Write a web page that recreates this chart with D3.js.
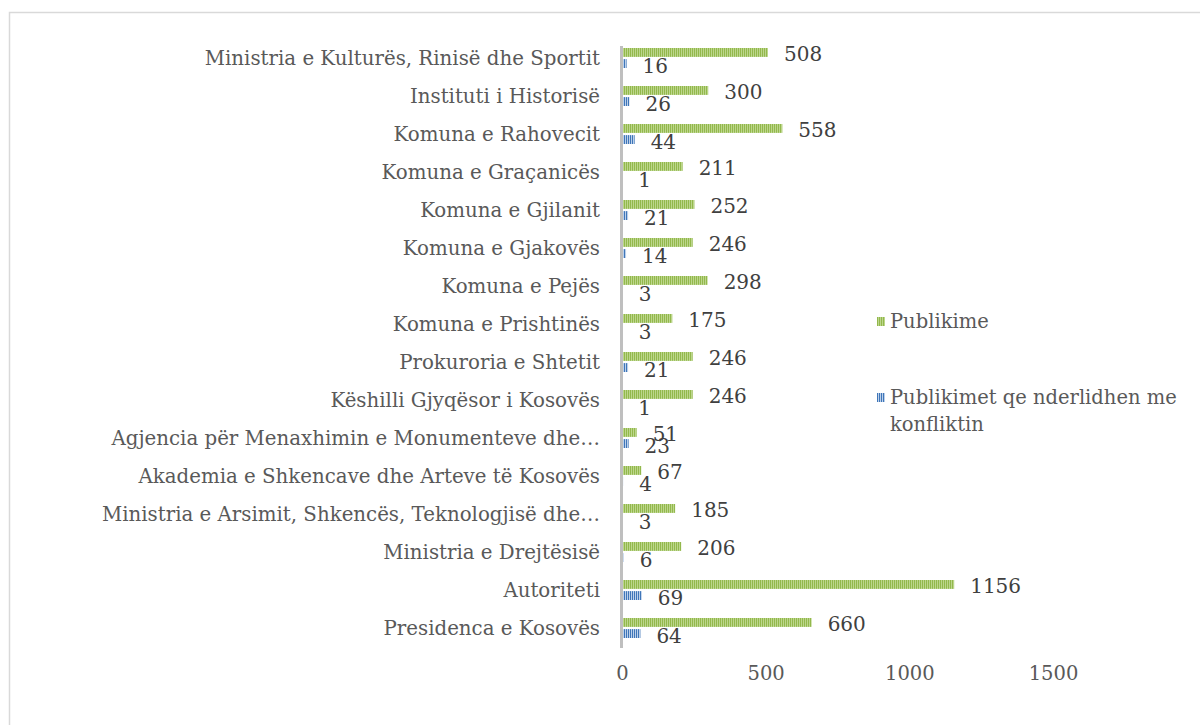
<!DOCTYPE html>
<html>
<head>
<meta charset="utf-8">
<script src="https://cdn.jsdelivr.net/npm/d3@7"></script>
<style>
  body { margin: 0; background: #fff; }
  svg text { font-family: "DejaVu Serif", "Liberation Serif", serif; }
</style>
</head>
<body>
<script>
// categories, top to bottom as in the chart
let categories = [
    "Ministria e Kulturës, Rinisë dhe Sportit",
    "Instituti i Historisë",
    "Komuna e Rahovecit",
    "Komuna e Graçanicës",
    "Komuna e Gjilanit",
    "Komuna e Gjakovës",
    "Komuna e Pejës",
    "Komuna e Prishtinës",
    "Prokuroria e Shtetit",
    "Këshilli Gjyqësor i Kosovës",
    "Agjencia për Menaxhimin e Monumenteve dhe…",
    "Akademia e Shkencave dhe Arteve të Kosovës",
    "Ministria e Arsimit, Shkencës, Teknologjisë dhe…",
    "Ministria e Drejtësisë",
    "Autoriteti",
    "Presidenca e Kosovës"
];
let publikime = [508, 300, 558, 211, 252, 246, 298, 175, 246, 246, 51, 67, 185, 206, 1156, 660];
let konflikt = [16, 26, 44, 1, 21, 14, 3, 3, 21, 1, 23, 4, 3, 6, 69, 64];
let seriesNames = ["Publikime", "Publikimet qe nderlidhen me konfliktin"];
let xTicks = [0, 500, 1000, 1500];

let width = 1200, height = 725;

let svg = d3.select("body").append("svg")
    .attr("width", width).attr("height", height);

// striped fills like the excel pattern bars
let defs = svg.append("defs");
let pg = defs.append("pattern").attr("id", "pGreen")
    .attr("patternUnits", "userSpaceOnUse").attr("width", 2).attr("height", 4);
pg.append("rect").attr("width", 2).attr("height", 4).attr("fill", "#bcd68c");
pg.append("rect").attr("width", 1).attr("height", 4).attr("fill", "#93b84c");
let pb = defs.append("pattern").attr("id", "pBlue")
    .attr("patternUnits", "userSpaceOnUse").attr("width", 2).attr("height", 4);
pb.append("rect").attr("width", 2).attr("height", 4).attr("fill", "#bcd0ea");
pb.append("rect").attr("width", 1).attr("height", 4).attr("fill", "#3f76b8");
let fills = ["url(#pGreen)", "url(#pBlue)"];

// outer frame (only top and left edges are inside the picture)
svg.append("rect")
    .attr("x", 9.5).attr("y", 12.5)
    .attr("width", 1250).attr("height", 800)
    .attr("fill", "none").attr("stroke", "#d9d9d9").attr("stroke-width", 1.5);

let x = d3.scaleLinear().domain([0, 1500]).range([622, 1053]);
let y = d3.scaleBand().domain(categories).range([39, 647]);
let ySub = d3.scaleBand().domain(d3.range(2)).range([9, 29]).paddingInner(0.2);

let rows = categories.map((c, i) => ({ cat: c, vals: [publikime[i], konflikt[i]] }));

// category labels
svg.append("g").selectAll("text").data(categories).join("text")
    .attr("x", 600)
    .attr("y", (d) => y(d) + y.bandwidth() / 2)
    .attr("dy", "0.35em")
    .attr("text-anchor", "end")
    .attr("font-size", 19.8)
    .attr("fill", "#595959")
    .text((d) => d);

// bars
let grp = svg.append("g").selectAll("g").data(rows).join("g")
    .attr("transform", (d) => `translate(0,${y(d.cat)})`);

grp.selectAll("rect").data((d) => d.vals).join("rect")
    .attr("x", x(0))
    .attr("y", (d, i) => ySub(i))
    .attr("width", (d) => x(d) - x(0))
    .attr("height", ySub.bandwidth())
    .attr("fill", (d, i) => fills[i]);

// value labels
grp.selectAll("text").data((d) => d.vals).join("text")
    .attr("x", (d) => x(d) + 16)
    .attr("y", (d, i) => ySub(i) + ySub.bandwidth() / 2 + 2)
    .attr("dy", "0.35em")
    .attr("font-size", 20)
    .attr("fill", "#404040")
    .text((d) => d);

// vertical axis line
svg.append("line")
    .attr("x1", 621.5).attr("x2", 621.5)
    .attr("y1", 46).attr("y2", 648)
    .attr("stroke", "#bfbfbf").attr("stroke-width", 3);

// x axis labels
let xAxis = svg.append("g")
    .attr("transform", "translate(0,666)")
    .call(d3.axisBottom(x).tickValues(xTicks).tickFormat(d3.format("d")).tickSize(0).tickPadding(0));
xAxis.select(".domain").remove();
xAxis.selectAll("text")
    .attr("font-size", 19.5)
    .attr("fill", "#595959")
    .attr("dy", "0.7em")
    .attr("font-family", null);

// legend
let legY = [321, 397];
let leg = svg.append("g").selectAll("g").data(seriesNames).join("g")
    .attr("transform", (d, i) => `translate(877,${legY[i]})`);
leg.append("rect")
    .attr("x", 0).attr("y", -4)
    .attr("width", 8).attr("height", 9)
    .attr("fill", (d, i) => fills[i]);
leg.append("text")
    .attr("x", 13)
    .attr("font-size", 19.5)
    .attr("fill", "#595959")
    .each(function (d) {
        let t = d3.select(this);
        let parts = d === seriesNames[1] ? ["Publikimet qe nderlidhen me", "konfliktin"] : [d];
        parts.forEach((p, k) => {
            t.append("tspan").attr("x", 13).attr("dy", k === 0 ? "0.35em" : 27).text(p);
        });
    });
</script>
</body>
</html>
